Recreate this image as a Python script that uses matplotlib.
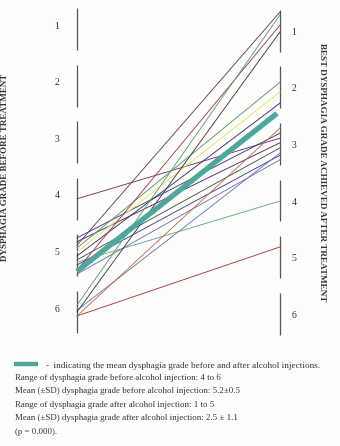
import matplotlib
matplotlib.use("Agg")
import matplotlib.pyplot as plt

# ---- data (positions, in grade units) ----
grades = [1, 2, 3, 4, 5, 6]
grade_labels = ["1", "2", "3", "4", "5", "6"]

before = [4.00, 4.69, 4.76, 4.82, 4.87, 4.94, 5.01, 5.08, 5.12, 5.17,
          5.26, 5.33, 5.88, 5.97, 6.00, 6.07, 6.07]
after = [2.93, 2.84, 3.01, 0.70, 1.94, 2.11, 2.31, 3.10, 4.04, 3.23,
         0.93, 3.31, 0.75, 3.19, 1.05, 4.85, 2.75]
line_colors = ["#7a3060", "#3a3a80", "#503060", "#6b3a6b", "#5a9a6a",
               "#e6e65a", "#2f2f70", "#505050", "#6aa888", "#404088",
               "#a03c5a", "#7070c0", "#5aa070", "#6a78b8", "#3a3a4a",
               "#b03545", "#c07050"]

mean_before = 5.28
mean_after = 2.45

left_title = "DYSPHAGIA GRADE BEFORE TREATMENT"
right_title = "BEST DYSPHAGIA GRADE ACHIEVED AFTER TREATMENT"
legend_text = "-  indicating the mean dysphagia grade before and after alcohol injections."
notes = [
    "Range of dysphagia grade before alcohol injection: 4 to 6",
    "Mean (\u00b1SD) dysphagia grade before alcohol injection: 5.2\u00b10.5",
    "Range of dysphagia grade after alcohol injection: 1 to 5",
    "Mean (\u00b1SD) dysphagia grade after alcohol injection: 2.5 \u00b1 1.1",
    "(p = 0.000).",
]

W, H = 340, 446
fig = plt.figure(figsize=(W / 100, H / 100), dpi=100)
fig.patch.set_facecolor("#fdfdfc")

serif = ["Liberation Serif", "DejaVu Serif"]
TEAL = "#4ea69c"
TXT = "#333333"

# axes: x=0 at pixel 77, x=1 at pixel 280 ; y spans pixel 0..340
ax = fig.add_axes([77 / W, (H - 340) / H, 203 / W, 340 / H])
ax.set_xlim(0, 1)
ax.set_ylim(6.495, 0.4876)
ax.axis("off")

# grade segments
half = 0.37
for g, lab in zip(grades, grade_labels):
    ax.plot([0, 0], [g - half, g + half], color="#555555", lw=0.9,
            clip_on=False, solid_capstyle="butt")
    ax.plot([1, 1], [g + 0.03 - half, g + 0.03 + half], color="#555555",
            lw=0.9, clip_on=False, solid_capstyle="butt")
    ax.text(-20 / 203, g - 0.05, lab, ha="center", va="center",
            fontsize=7.0, family=serif, color=TXT)
    ax.text(1 + 14 / 203, g + 0.06, lab, ha="center", va="center",
            fontsize=7.0, family=serif, color=TXT)

# patient lines
for b, a, c in zip(before, after, line_colors):
    ax.plot([0, 1], [b, a], color=c, lw=0.65, clip_on=False)

# mean line
ax.plot([0, 0.985], [mean_before, mean_before + (mean_after - mean_before) * 0.985],
        color=TEAL, lw=3.8, solid_capstyle="butt", clip_on=False, zorder=5)

# axis titles
fig.text(5 / W, 1 - 167 / H, left_title, rotation=90, ha="center", va="center",
         fontsize=6.5, fontweight="bold", family=serif, color=TXT)
fig.text(322 / W, 1 - 172 / H, right_title, rotation=-90, ha="center",
         va="center", fontsize=6.6, fontweight="bold", family=serif, color=TXT)

# legend bar + caption
fig.add_artist(plt.Line2D([14 / W, 38 / W], [1 - 364 / H, 1 - 364 / H],
                          color=TEAL, lw=3.2, solid_capstyle="butt"))
fig.text(46 / W, 1 - 366 / H, legend_text, ha="left", va="center",
         fontsize=6.6, family=serif, color=TXT)
note_y = [378, 391, 405, 418, 432]
for t, yy in zip(notes, note_y):
    fig.text(15 / W, 1 - yy / H, t, ha="left", va="center", fontsize=6.4,
             family=serif, color=TXT)

fig.savefig("out.png", dpi=100, facecolor=fig.get_facecolor())
